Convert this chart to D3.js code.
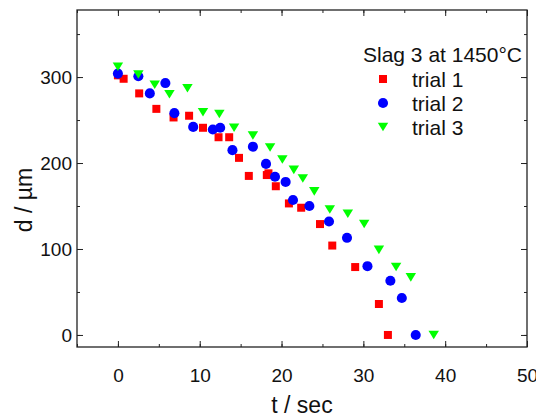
<!DOCTYPE html>
<html>
<head>
<meta charset="utf-8">
<script src="https://cdn.jsdelivr.net/npm/d3@7"></script>
<style>
  body { margin: 0; background: #fff; }
  text { font-family: "Liberation Sans", Arial, sans-serif; }
</style>
</head>
<body>
<div id="chart"></div>
<script>
// values (t in sec, d in µm)
const trial1T = [0, 0.7, 2.6, 4.7, 6.8, 8.7, 10.4, 12.3, 13.6, 14.8, 16.0, 18.2, 18.4, 19.3, 20.9, 22.4, 24.7, 26.2, 29.0, 31.9, 33.0];
const trial1D = [302, 298, 281, 263, 253, 255, 241, 230, 230, 206, 185, 186, 188, 173, 153, 148, 129, 104, 79, 36, 0];
const trial2T = [0, 2.5, 3.9, 5.8, 6.9, 9.2, 11.6, 12.5, 14.0, 16.5, 18.1, 19.2, 20.5, 21.4, 23.4, 25.8, 28.0, 30.5, 33.3, 34.7, 36.4];
const trial2D = [304, 301, 281, 293, 258, 242, 239, 241, 215, 219, 199, 184, 178, 157, 150, 132, 113, 80, 63, 43, 0];
const trial3T = [0, 2.5, 4.5, 6.3, 8.5, 10.4, 12.4, 14.2, 16.5, 18.6, 20.1, 21.5, 22.6, 24.0, 25.9, 28.1, 30.1, 31.9, 34.0, 35.8, 38.6];
const trial3D = [312, 303, 291, 280, 287, 259, 257, 241, 232, 218, 204, 192, 182, 167, 146, 141, 129, 99, 79, 67, 0];

const seriesNames = ["trial 1", "trial 2", "trial 3"];
const legendTitle = "Slag 3 at 1450°C";
const xTicks = [0, 10, 20, 30, 40, 50];
const yTicks = [0, 100, 200, 300];

const width = 536, height = 416;
let [mt, mr, mb, ml] = [10, 9, 69, 77];

const x = d3.scaleLinear([-5, 50], [ml, width - mr]);
const y = d3.scaleLinear([-14, 378], [height - mb, mt]);

// downward triangle centred on its bounding box
const triangleDown = {
  draw(context, size) {
    const w = Math.sqrt(size * 2.6), h = w * 0.82;
    context.moveTo(-w / 2, -h / 2);
    context.lineTo(w / 2, -h / 2);
    context.lineTo(0, h / 2);
    context.closePath();
  }
};

const series = [
  { name: seriesNames[0], t: trial1T, d: trial1D, color: "#ff0000", type: d3.symbolSquare, size: 64 },
  { name: seriesNames[1], t: trial2T, d: trial2D, color: "#0000ff", type: d3.symbolCircle, size: 80 },
  { name: seriesNames[2], t: trial3T, d: trial3D, color: "#00ff00", type: triangleDown, size: 42 }
];

const svg = d3.select("#chart").append("svg")
  .attr("width", width)
  .attr("height", height);

function styleAxis(g) {
  g.select(".domain").remove();
  g.selectAll(".tick line").attr("stroke", "#222");
  g.selectAll(".tick text").attr("fill", "#111").style("font-size", "19px")
    .style("font-family", '"Liberation Sans", Arial, sans-serif');
}

const minorX = d3.range(-5, 51, 5);
const minorY = d3.range(0, 376, 50);

// bottom
svg.append("g").attr("transform", `translate(0,${height - mb})`)
  .call(d3.axisBottom(x).tickValues(minorX).tickFormat("").tickSize(-3)).call(styleAxis);
svg.append("g").attr("transform", `translate(0,${height - mb})`)
  .call(d3.axisBottom(x).tickValues(xTicks).tickSize(-6).tickPadding(22)).call(styleAxis);
// top
svg.append("g").attr("transform", `translate(0,${mt})`)
  .call(d3.axisTop(x).tickValues(minorX).tickFormat("").tickSize(-3)).call(styleAxis);
svg.append("g").attr("transform", `translate(0,${mt})`)
  .call(d3.axisTop(x).tickValues(xTicks).tickFormat("").tickSize(-6)).call(styleAxis);
// left
svg.append("g").attr("transform", `translate(${ml},0)`)
  .call(d3.axisLeft(y).tickValues(minorY).tickFormat("").tickSize(-3)).call(styleAxis);
svg.append("g").attr("transform", `translate(${ml},0)`)
  .call(d3.axisLeft(y).tickValues(yTicks).tickSize(-6).tickPadding(5)).call(styleAxis);
// right
svg.append("g").attr("transform", `translate(${width - mr},0)`)
  .call(d3.axisRight(y).tickValues(minorY).tickFormat("").tickSize(-3)).call(styleAxis);
svg.append("g").attr("transform", `translate(${width - mr},0)`)
  .call(d3.axisRight(y).tickValues(yTicks).tickFormat("").tickSize(-6)).call(styleAxis);

// frame
svg.append("rect")
  .attr("x", ml).attr("y", mt)
  .attr("width", width - mr - ml).attr("height", height - mb - mt)
  .attr("fill", "none").attr("stroke", "#222").attr("stroke-width", 1.3);

// points
for (const s of series) {
  svg.append("g").selectAll("path")
    .data(d3.range(s.t.length))
    .join("path")
    .attr("transform", i => `translate(${x(s.t[i])},${y(s.d[i])})`)
    .attr("d", d3.symbol(s.type, s.size))
    .attr("fill", s.color);
}

// axis titles
svg.append("text")
  .attr("x", (ml + width - mr) / 2).attr("y", 413)
  .attr("text-anchor", "middle")
  .style("font-size", "23px").attr("fill", "#111")
  .text("t / sec");
svg.append("text")
  .attr("transform", `translate(32,${200}) rotate(-90)`)
  .attr("text-anchor", "middle")
  .style("font-size", "23px").attr("fill", "#111")
  .text("d / µm");

// legend
const legend = svg.append("g");
legend.append("text")
  .attr("x", 363).attr("y", 62)
  .style("font-size", "21px").attr("fill", "#111")
  .text(legendTitle);
series.forEach((s, i) => {
  const yy = 79 + i * 24;
  legend.append("path")
    .attr("transform", `translate(383,${yy})`)
    .attr("d", d3.symbol(s.type, s.size)())
    .attr("fill", s.color);
  legend.append("text")
    .attr("x", 412).attr("y", yy + 8)
    .style("font-size", "21px").attr("fill", "#111")
    .text(s.name);
});
</script>
</body>
</html>
